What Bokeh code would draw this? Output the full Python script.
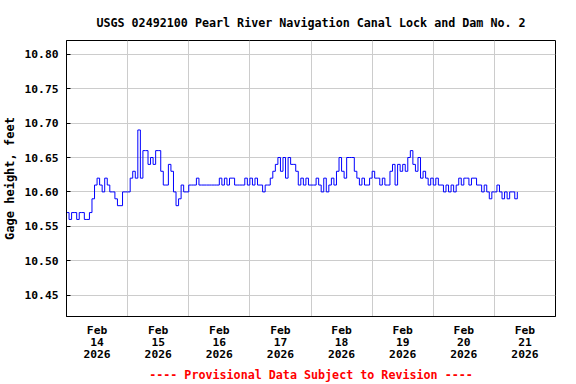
import pandas as pd
from bokeh.plotting import figure
from bokeh.models import FixedTicker, Range1d, Title, ColumnDataSource, NumeralTickFormatter
from bokeh.embed import file_html
from bokeh.resources import INLINE

title_text = "USGS 02492100 Pearl River Navigation Canal Lock and Dam No. 2"
y_label = "Gage height, feet"
footer_text = "---- Provisional Data Subject to Revision ----"

start_time = "2026-02-14 00:00"
end_time = "2026-02-22 00:00"

# hourly gage height, feet
gage_ft = [
    10.57, 10.56, 10.57, 10.57, 10.56, 10.57, 10.57, 10.56, 10.56, 10.57,
    10.59, 10.61, 10.62, 10.61, 10.60, 10.62, 10.61, 10.60, 10.60, 10.59,
    10.58, 10.58, 10.60, 10.60, 10.60, 10.62, 10.63, 10.62, 10.69, 10.62,
    10.66, 10.66, 10.64, 10.65, 10.64, 10.66, 10.66, 10.63, 10.61, 10.61,
    10.64, 10.63, 10.60, 10.58, 10.59, 10.61, 10.60, 10.60, 10.61, 10.61,
    10.61, 10.62, 10.61, 10.61, 10.61, 10.61, 10.61, 10.61, 10.61, 10.61,
    10.62, 10.61, 10.62, 10.61, 10.62, 10.62, 10.61, 10.61, 10.61, 10.61,
    10.62, 10.61, 10.62, 10.61, 10.62, 10.61, 10.61, 10.60, 10.61, 10.61,
    10.62, 10.63, 10.64, 10.65, 10.63, 10.65, 10.62, 10.65, 10.64, 10.64,
    10.63, 10.61, 10.62, 10.61, 10.62, 10.61, 10.61, 10.61, 10.62, 10.61,
    10.60, 10.62, 10.60, 10.61, 10.62, 10.61, 10.63, 10.65, 10.63, 10.62,
    10.65, 10.65, 10.65, 10.63, 10.62, 10.61, 10.62, 10.61, 10.61, 10.62,
    10.63, 10.62, 10.62, 10.61, 10.62, 10.61, 10.61, 10.63, 10.64, 10.61,
    10.64, 10.63, 10.64, 10.63, 10.65, 10.66, 10.64, 10.63, 10.65, 10.62,
    10.63, 10.62, 10.61, 10.62, 10.61, 10.62, 10.61, 10.61, 10.60, 10.61,
    10.60, 10.61, 10.60, 10.61, 10.62, 10.61, 10.62, 10.62, 10.61, 10.62,
    10.62, 10.61, 10.61, 10.60, 10.61, 10.60, 10.59, 10.60, 10.60, 10.61,
    10.60, 10.59, 10.60, 10.59, 10.60, 10.60, 10.59, 10.60,
]

day_label_list = [
    "Feb\n14\n2026", "Feb\n15\n2026", "Feb\n16\n2026", "Feb\n17\n2026",
    "Feb\n18\n2026", "Feb\n19\n2026", "Feb\n20\n2026", "Feb\n21\n2026",
]
y_ticks = [10.45, 10.50, 10.55, 10.60, 10.65, 10.70, 10.75, 10.80]
y_min, y_max = 10.419, 10.82


def ms(ts):
    return int(pd.Timestamp(ts).value // 10**6)


times = pd.date_range(start_time, periods=len(gage_ft), freq="h")
noon_ticks = [ms(t) for t in pd.date_range("2026-02-14 12:00", periods=len(day_label_list), freq="D")]
midnight_ticks = [ms(t) for t in pd.date_range("2026-02-15 00:00", periods=7, freq="D")]

src = ColumnDataSource(dict(t=[ms(t) for t in times], h=gage_ft))

FONT = "DejaVu Sans Mono"

p = figure(
    frame_width=489, frame_height=276, output_backend="svg", toolbar_location=None,
    x_axis_type="datetime",
    x_range=Range1d(ms(start_time), ms(end_time)),
    y_range=Range1d(y_min, y_max),
    min_border_left=58, min_border_right=13, min_border_top=40, min_border_bottom=0,
    background_fill_color="white", border_fill_color="white",
)

p.title.text = title_text
p.title.align = "center"
p.title.text_font = FONT
p.title.text_font_style = "bold"
p.title.text_font_size = "11.7px"
p.title.text_color = "black"
p.title.standoff = 21

p.step("t", "h", source=src, line_color="#0000ff", line_width=1, mode="after")

p.outline_line_color = "black"
p.outline_line_width = 1

# grids
p.xgrid.ticker = FixedTicker(ticks=midnight_ticks)
p.xgrid.grid_line_color = "#cccccc"
p.ygrid.grid_line_color = "#cccccc"
p.ygrid.ticker = FixedTicker(ticks=y_ticks)

# x axis
xa = p.xaxis[0]
xa.ticker = FixedTicker(ticks=noon_ticks)
xa.major_label_overrides = {t: lab for t, lab in zip(noon_ticks, day_label_list)}
xa.major_tick_in = 0
xa.major_tick_out = 0
xa.minor_tick_in = 0
xa.minor_tick_out = 0
xa.axis_line_color = "black"
xa.major_label_text_font = FONT
xa.major_label_text_font_style = "bold"
xa.major_label_text_font_size = "11.3px"
xa.major_label_text_line_height = 0.95
xa.major_label_text_color = "black"
xa.major_label_standoff = 7

# y axis
ya = p.yaxis[0]
ya.ticker = FixedTicker(ticks=y_ticks)
ya.formatter = NumeralTickFormatter(format="0.00")
ya.major_tick_in = 4
ya.major_tick_out = 0
ya.minor_tick_in = 0
ya.minor_tick_out = 0
ya.major_tick_line_color = "black"
ya.axis_line_color = "black"
ya.major_label_text_font = FONT
ya.major_label_text_font_style = "bold"
ya.major_label_text_font_size = "11.3px"
ya.major_label_text_color = "black"
ya.major_label_standoff = 8
ya.axis_label = y_label
ya.axis_label_text_font = FONT
ya.axis_label_text_font_style = "bold"
ya.axis_label_text_font_size = "12px"
ya.axis_label_text_color = "black"
ya.axis_label_standoff = 4

footer = Title(text=footer_text, align="center", text_color="#ff0000",
               text_font=FONT, text_font_style="bold", text_font_size="11.7px",
               standoff=2)
p.add_layout(footer, "below")

open("out.html", "w").write(file_html(p, INLINE))
